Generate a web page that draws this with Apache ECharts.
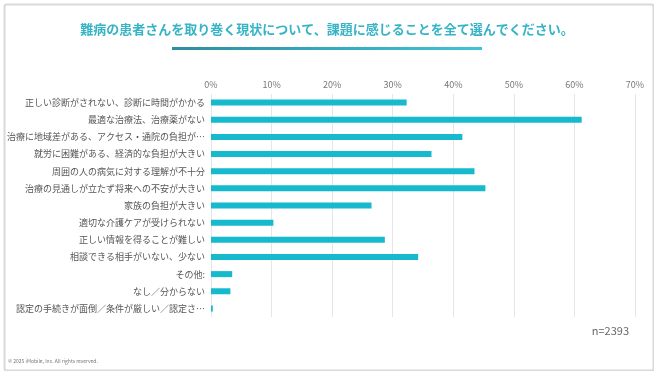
<!DOCTYPE html>
<html><head><meta charset="utf-8">
<script src="https://cdn.jsdelivr.net/npm/echarts@6/dist/echarts.min.js"></script>
<style>html,body{margin:0;padding:0;background:#fff}#c{width:654px;height:371px}</style>
</head><body><div id="c"></div>
<script>
const titleText = '難病の患者さんを取り巻く現状について、課題に感じることを全て選んでください。';
const categories = [
  '正しい診断がされない、診断に時間がかかる',
  '最適な治療法、治療薬がない',
  '治療に地域差がある、アクセス・通院の負担が…',
  '就労に困難がある、経済的な負担が大きい',
  '周囲の人の病気に対する理解が不十分',
  '治療の見通しが立たず将来への不安が大きい',
  '家族の負担が大きい',
  '適切な介護ケアが受けられない',
  '正しい情報を得ることが難しい',
  '相談できる相手がいない、少ない',
  'その他:',
  'なし／分からない',
  '認定の手続きが面倒／条件が厳しい／認定さ…'
];
const values = [32.3, 61.2, 41.5, 36.4, 43.5, 45.3, 26.5, 10.3, 28.7, 34.2, 3.5, 3.2, 0.3];
const tickMax = 70, tickStep = 10;
const sampleNote = 'n=2393';
const copyright = '© 2025 iMobile, Inc. All rights reserved.';

const chart = echarts.init(document.getElementById('c'), null, {renderer:'canvas'});
const font = '"Noto Sans CJK JP", "Noto Sans", sans-serif';
chart.setOption({
  animation:false,
  backgroundColor:'#fff',
  textStyle:{fontFamily:font},
  title:{
    text:titleText, left:'center', top:18,
    textStyle:{fontSize:13, fontWeight:'bold', color:'#36b4c6', fontFamily:font}
  },
  graphic:[
    {type:'rect', left:2, top:2, shape:{width:649, height:366, r:2}, style:{fill:'none', stroke:'#d9d9d9', lineWidth:2}, z:-1},
    {type:'rect', left:172, top:47, shape:{width:310, height:3}, style:{
      fill:new echarts.graphic.LinearGradient(0,0,1,0,[{offset:0,color:'#2d8ea0'},{offset:1,color:'#3fc4d6'}])}},
    {type:'text', right:25, top:325, style:{text:sampleNote, fontSize:11, fill:'#666', fontFamily:font}},
    {type:'text', left:8, top:359, style:{text:copyright, fontSize:5, fill:'#777', fontFamily:font}}
  ],
  grid:{left:211, right:19, top:94, bottom:54, containLabel:false},
  xAxis:{
    type:'value', position:'top', min:0, max:tickMax, interval:tickStep,
    axisLabel:{formatter:'{value}%', fontSize:9, color:'#777', margin:5},
    axisLine:{show:false}, axisTick:{show:false},
    splitLine:{lineStyle:{color:'#e6e6e6', width:1}}
  },
  yAxis:{
    type:'category', data:categories, inverse:true,
    axisLine:{show:false}, axisTick:{show:false},
    axisLabel:{fontSize:9, color:'#555', margin:6}
  },
  series:[{
    type:'bar', data:values, barWidth:6,
    itemStyle:{color:'#17b9cd'}
  }]
});
</script></body></html>
